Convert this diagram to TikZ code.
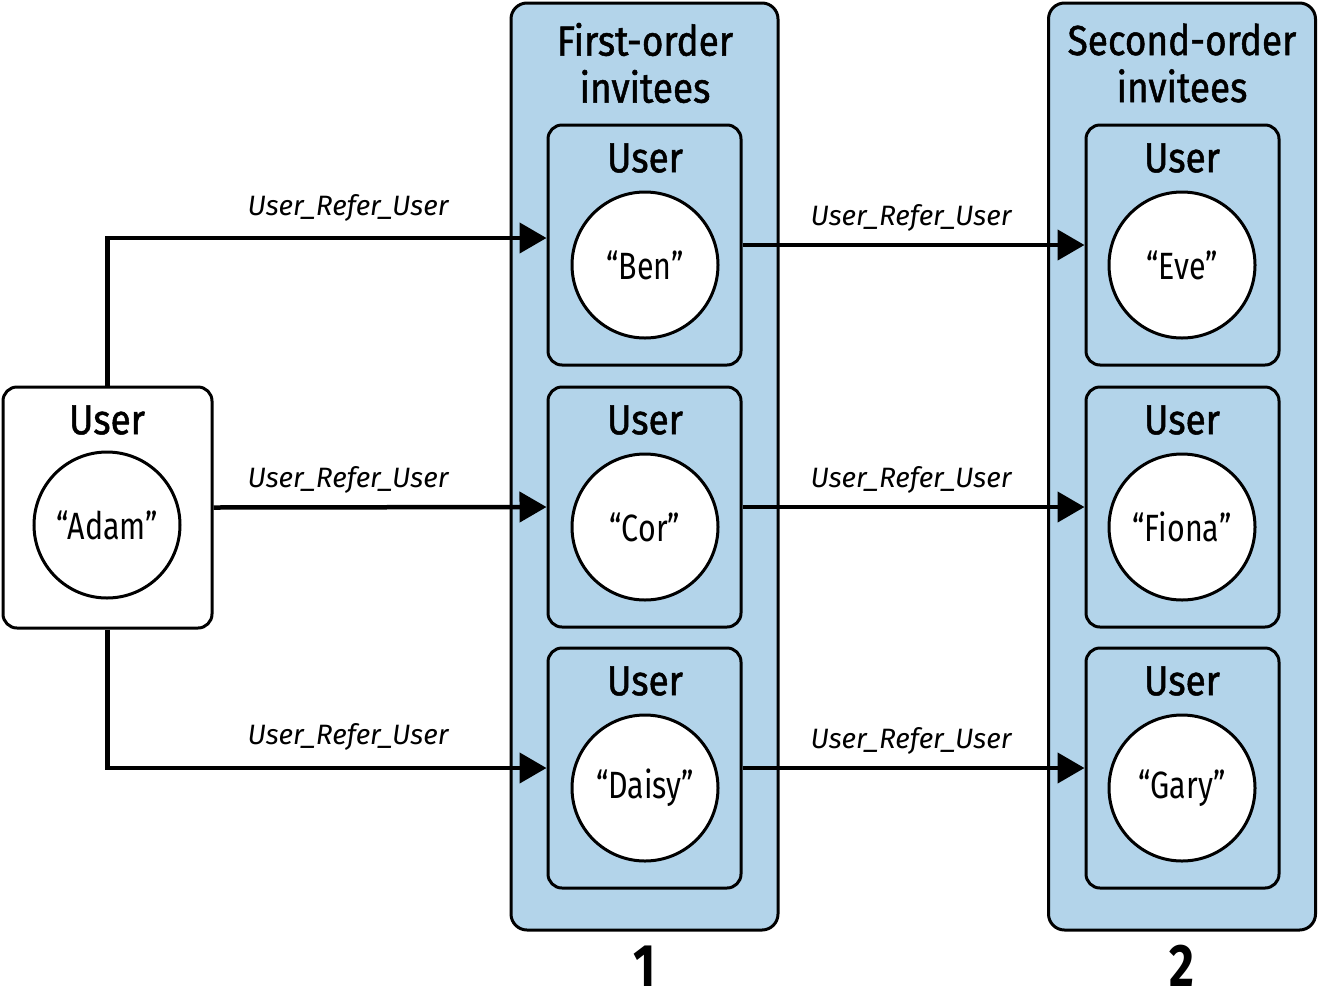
\documentclass[tikz,border=0pt]{standalone}
\usepackage{fontspec}
\setmainfont{Fira Sans}[FakeStretch=0.8]
\newfontfamily\titlefont{Fira Sans}[FakeStretch=0.88, FakeBold=1.2]
\newfontfamily\labelfont{Fira Sans}
\usetikzlibrary{arrows.meta}

\definecolor{groupblue}{RGB}{179,212,234}

\tikzset{
  groupbox/.style={draw, line width=3pt, rounded corners=16pt, fill=groupblue,
    minimum width=267pt, minimum height=927pt},
  userbox/.style={draw, line width=3pt, rounded corners=14pt, fill=groupblue,
    minimum width=193pt, minimum height=240pt},
  namecirc/.style={draw, circle, line width=3pt, fill=white, minimum size=146pt,
    inner sep=0pt, font=\fontsize{38}{42}\selectfont},
  boxtitle/.style={font=\titlefont\fontsize{42}{47}\selectfont, align=center},
  relabel/.style={font=\labelfont\itshape\fontsize{28}{32}\selectfont},
  ordernum/.style={font=\bfseries\fontsize{60}{60}\selectfont},
  refarrow/.style={line width=4.5pt, -{Triangle[length=27pt,width=30pt]}},
}

\begin{document}
\begin{tikzpicture}[x=1pt,y=-1pt]
\useasboundingbox (0,0) rectangle (1319,1002);

% Start user
\node[userbox, fill=white, minimum width=209pt, minimum height=241pt] (box-Adam) at (107.5,507.5) {};
\node[boxtitle] (title-Adam) at (107,420) {User};
\node[namecirc] (Adam) at (107,525) {“Adam”};

% Invitee groups
\node[groupbox] (first) at (644.5,466.5) {};
\node[boxtitle] (first title) at (645,63) {First-order\\invitees};
\node[groupbox] (second) at (1182,466.5) {};
\node[boxtitle] (second title) at (1182,63) {Second-order\\invitees};
\node[ordernum] (first num) at (645,966) {1};
\node[ordernum] (second num) at (1182,966) {2};

% Invited users
\foreach \y/\a/\b in {245/Ben/Eve, 507/Cor/Fiona, 768/Daisy/Gary} {
  \node[userbox] (box-\a) at (644.5,\y) {};
  \node[boxtitle] at (645,\y-87) {User};
  \node[namecirc] (\a) at (645,\y+20) {“\a”};
  \node[userbox] (box-\b) at (1182.5,\y) {};
  \node[boxtitle] at (1182,\y-87) {User};
  \node[namecirc] (\b) at (1182,\y+20) {“\b”};
  \draw[refarrow] (box-\a.east) -- (box-\b.west);
  \node[relabel] at (911,\y-27) {User\_Refer\_User};
}

% Referrals from Adam
\draw[refarrow] (box-Adam.north) |- ([yshift=7pt]box-Ben.west);
\draw[refarrow] (box-Adam.east) -- (box-Cor.west);
\draw[refarrow] (box-Adam.south) |- (box-Daisy.west);
\node[relabel] (r1) at (348,208) {User\_Refer\_User};
\node[relabel] (r2) at (348,480) {User\_Refer\_User};
\node[relabel] (r3) at (348,737) {User\_Refer\_User};

\end{tikzpicture}
\end{document}
